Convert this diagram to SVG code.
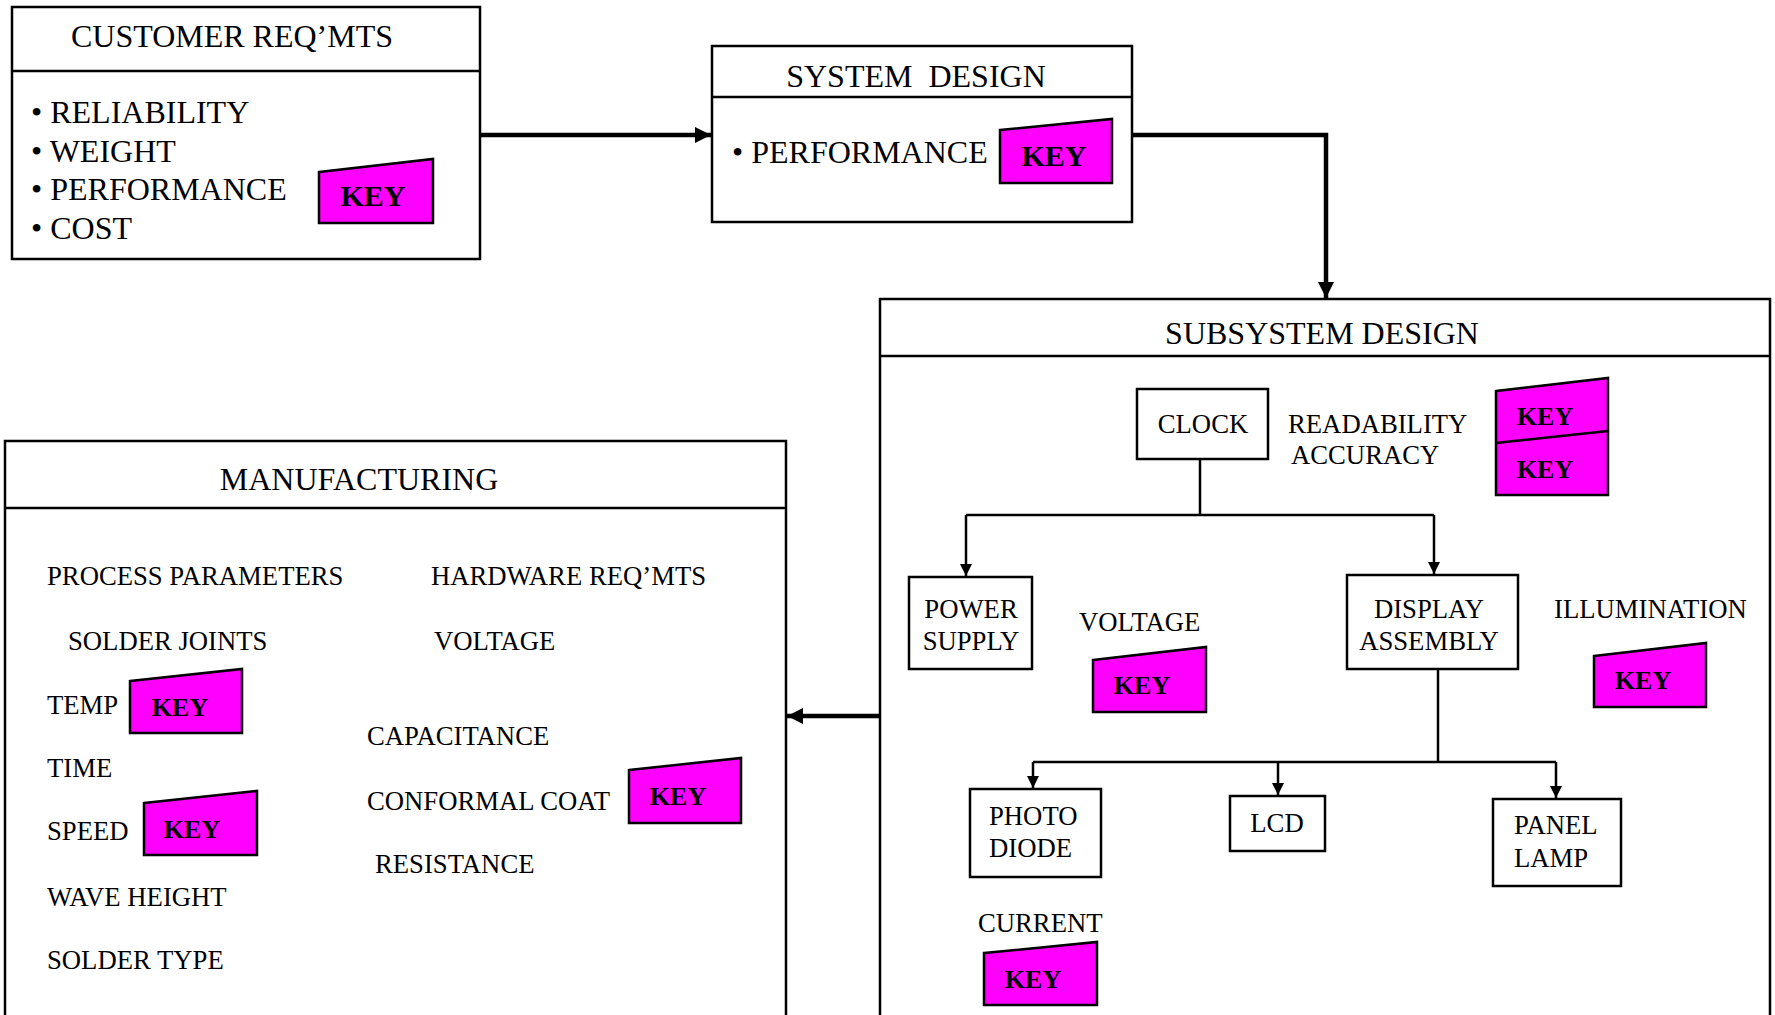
<svg xmlns="http://www.w3.org/2000/svg" width="1775" height="1015" viewBox="0 0 1775 1015">
<defs>
<style>
.box{fill:#fff;stroke:#000;stroke-width:2.5}
.sbox{fill:#fff;stroke:#000;stroke-width:2.5}
.key{fill:#ff00ff;stroke:#000;stroke-width:2.5;stroke-linejoin:miter}
.t{font-family:"Liberation Serif","Times New Roman",serif;fill:#000}
.big{font-size:32px}
.sm{font-size:26.7px}
.kb{font-family:"Liberation Serif","Times New Roman",serif;font-weight:bold;fill:#000;text-anchor:middle}
.k30{font-size:30px}
.k26{font-size:26px}
.mid{text-anchor:middle}
.thick{fill:none;stroke:#000;stroke-width:4.5}
.thin{fill:none;stroke:#000;stroke-width:2.5}
</style>
<marker id="ah" viewBox="0 0 10 10" refX="10" refY="5" markerUnits="userSpaceOnUse" markerWidth="18" markerHeight="16" orient="auto">
<path d="M0,0 L10,5 L0,10 z" fill="#000"/>
</marker>
<marker id="ahs" viewBox="0 0 10 10" refX="10" refY="5" markerUnits="userSpaceOnUse" markerWidth="14" markerHeight="12" orient="auto">
<path d="M0,0 L10,5 L0,10 z" fill="#000"/>
</marker>
</defs>
<rect width="1775" height="1015" fill="#fff"/>

<g id="customer">
<rect class="box" x="12" y="7" width="468" height="252"/>
<line class="thin" x1="12" y1="71" x2="480" y2="71"/>
<text class="t big mid" x="232" y="47">CUSTOMER REQ’MTS</text>
<text class="t big" x="31" y="123">• RELIABILITY</text>
<text class="t big" x="31" y="162">• WEIGHT</text>
<text class="t big" x="31" y="200">• PERFORMANCE</text>
<text class="t big" x="31" y="239">• COST</text>
<polygon class="key" points="319,172 433,159 433,223 319,223"/>
<text class="kb k30" x="373" y="206">KEY</text>
</g>

<g id="system">
<rect class="box" x="712" y="46" width="420" height="176"/>
<line class="thin" x1="712" y1="97" x2="1132" y2="97"/>
<text class="t big mid" x="916" y="87" style="white-space:pre">SYSTEM  DESIGN</text>
<text class="t big" x="732" y="163">• PERFORMANCE</text>
<polygon class="key" points="1000,130 1112,119 1112,183 1000,183"/>
<text class="kb k30" x="1054" y="166">KEY</text>
</g>

<g id="subsystem">
<rect class="box" x="880" y="299" width="890" height="760"/>
<line class="thin" x1="880" y1="356" x2="1770" y2="356"/>
<text class="t big mid" x="1322" y="344">SUBSYSTEM DESIGN</text>
<text class="t sm" x="1288" y="433">READABILITY</text>
<text class="t sm" x="1291" y="464">ACCURACY</text>
<polygon class="key" points="1496,391 1608,378 1608,495 1496,495"/>
<line class="thin" x1="1496" y1="443" x2="1608" y2="431"/>
<text class="kb k26" x="1545" y="425">KEY</text>
<text class="kb k26" x="1545" y="478">KEY</text>
<text class="t sm" x="1079" y="631">VOLTAGE</text>
<polygon class="key" points="1093,660 1206,647 1206,712 1093,712"/>
<text class="kb k26" x="1142" y="694">KEY</text>
<text class="t sm" x="1554" y="618">ILLUMINATION</text>
<polygon class="key" points="1594,656 1706,643 1706,707 1594,707"/>
<text class="kb k26" x="1643" y="689">KEY</text>
<text class="t sm" x="978" y="932">CURRENT</text>
<polygon class="key" points="984,953 1097,942 1097,1005 984,1005"/>
<text class="kb k26" x="1033" y="988">KEY</text>
</g>

<g id="clock">
<rect class="sbox" x="1137" y="389" width="131" height="70"/>
<text class="t sm mid" x="1203" y="433">CLOCK</text>
</g>
<g id="power-supply">
<rect class="sbox" x="909" y="577" width="123" height="92"/>
<text class="t sm mid" x="971" y="618">POWER</text>
<text class="t sm mid" x="971" y="650">SUPPLY</text>
</g>
<g id="display-assembly">
<rect class="sbox" x="1347" y="575" width="171" height="94"/>
<text class="t sm mid" x="1429" y="618">DISPLAY</text>
<text class="t sm mid" x="1429" y="650">ASSEMBLY</text>
</g>
<g id="photo-diode">
<rect class="sbox" x="970" y="789" width="131" height="88"/>
<text class="t sm" x="989" y="825">PHOTO</text>
<text class="t sm" x="989" y="857">DIODE</text>
</g>
<g id="lcd">
<rect class="sbox" x="1230" y="796" width="95" height="55"/>
<text class="t sm mid" x="1277" y="832">LCD</text>
</g>
<g id="panel-lamp">
<rect class="sbox" x="1493" y="799" width="128" height="87"/>
<text class="t sm" x="1514" y="834">PANEL</text>
<text class="t sm" x="1514" y="867">LAMP</text>
</g>

<g id="manufacturing">
<rect class="box" x="5" y="441" width="781" height="620"/>
<line class="thin" x1="5" y1="508" x2="786" y2="508"/>
<text class="t big mid" x="359" y="490">MANUFACTURING</text>
<text class="t sm" x="47" y="585">PROCESS PARAMETERS</text>
<text class="t sm" x="431" y="585">HARDWARE REQ’MTS</text>
<text class="t sm" x="68" y="650">SOLDER JOINTS</text>
<text class="t sm" x="434" y="650">VOLTAGE</text>
<text class="t sm" x="47" y="714">TEMP</text>
<polygon class="key" points="130,681 242,669 242,733 130,733"/>
<text class="kb k26" x="180" y="716">KEY</text>
<text class="t sm" x="367" y="745">CAPACITANCE</text>
<text class="t sm" x="47" y="777">TIME</text>
<text class="t sm" x="367" y="810">CONFORMAL COAT</text>
<polygon class="key" points="629,770 741,758 741,823 629,823"/>
<text class="kb k26" x="678" y="805">KEY</text>
<text class="t sm" x="47" y="840">SPEED</text>
<polygon class="key" points="144,803 257,791 257,855 144,855"/>
<text class="kb k26" x="192" y="838">KEY</text>
<text class="t sm" x="375" y="873">RESISTANCE</text>
<text class="t sm" x="47" y="906">WAVE HEIGHT</text>
<text class="t sm" x="47" y="969">SOLDER TYPE</text>
</g>

<g id="connectors">
<line class="thick" x1="480" y1="135" x2="711" y2="135" marker-end="url(#ah)"/>
<polyline class="thick" points="1132,135 1326,135 1326,298" marker-end="url(#ah)"/>
<line class="thick" x1="880" y1="716" x2="787" y2="716" marker-end="url(#ah)"/>
<polyline class="thin" points="1200,459 1200,515"/>
<line class="thin" x1="966" y1="515" x2="1434" y2="515"/>
<polyline class="thin" points="966,515 966,576" marker-end="url(#ahs)"/>
<polyline class="thin" points="1434,515 1434,574" marker-end="url(#ahs)"/>
<polyline class="thin" points="1438,669 1438,762"/>
<line class="thin" x1="1033" y1="762" x2="1556" y2="762"/>
<polyline class="thin" points="1033,762 1033,788" marker-end="url(#ahs)"/>
<polyline class="thin" points="1278,762 1278,795" marker-end="url(#ahs)"/>
<polyline class="thin" points="1556,762 1556,798" marker-end="url(#ahs)"/>
</g>
</svg>
